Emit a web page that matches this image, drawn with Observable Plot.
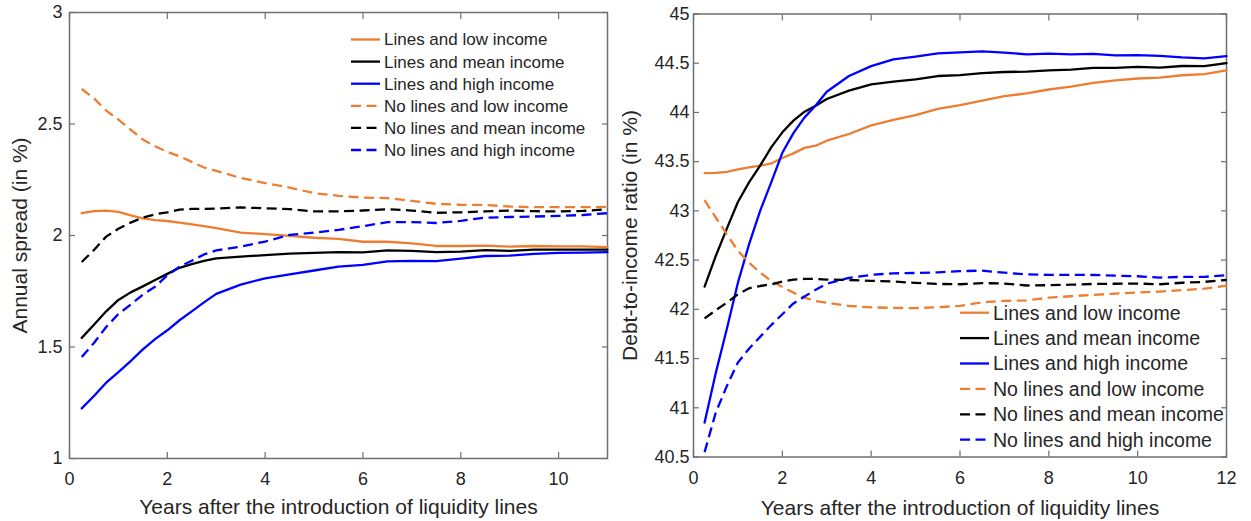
<!DOCTYPE html>
<html>
<head>
<meta charset="utf-8">
<script src="https://cdn.jsdelivr.net/npm/d3@7"></script>
<script src="https://cdn.jsdelivr.net/npm/@observablehq/plot@0.6"></script>
<style>
  body { margin: 0; background: #fff; }
  #charts { display: flex; width: 1251px; height: 521px; }
  #charts svg text { font-family: "Liberation Sans", Arial, sans-serif; }
</style>
</head>
<body>
<div id="charts"></div>
<script>
// Series shown in both panels (legend order)
const seriesNames = [
  "Lines and low income",
  "Lines and mean income",
  "Lines and high income",
  "No lines and low income",
  "No lines and mean income",
  "No lines and high income"
];

// Left panel: annual spread (in %)
const spreadYears = [0.25, 0.5, 0.75, 1, 1.25, 1.5, 1.75, 2, 2.25, 2.5, 2.75, 3, 3.5, 4,
  4.5, 5, 5.5, 6, 6.5, 7, 7.5, 8, 8.5, 9, 9.5, 10, 10.5, 11];
const spreadLinesLow = [2.100, 2.109, 2.112, 2.106, 2.090, 2.077, 2.069, 2.065, 2.058, 2.050, 2.042, 2.033, 2.013, 2.006,
  1.998, 1.990, 1.985, 1.972, 1.972, 1.965, 1.953, 1.953, 1.955, 1.950, 1.953, 1.951, 1.951, 1.948];
const spreadLinesMean = [1.541, 1.600, 1.660, 1.711, 1.745, 1.772, 1.800, 1.828, 1.855, 1.872, 1.886, 1.897, 1.905, 1.912,
  1.919, 1.922, 1.925, 1.924, 1.933, 1.931, 1.925, 1.928, 1.934, 1.931, 1.937, 1.937, 1.937, 1.937];
const spreadLinesHigh = [1.225, 1.280, 1.340, 1.387, 1.437, 1.489, 1.535, 1.575, 1.620, 1.660, 1.700, 1.738, 1.780, 1.808,
  1.826, 1.843, 1.860, 1.868, 1.884, 1.886, 1.885, 1.896, 1.908, 1.910, 1.918, 1.922, 1.923, 1.925];
const spreadNoLinesLow = [2.657, 2.615, 2.560, 2.520, 2.475, 2.430, 2.400, 2.375, 2.355, 2.330, 2.305, 2.290, 2.258, 2.235,
  2.215, 2.190, 2.178, 2.170, 2.168, 2.155, 2.142, 2.138, 2.137, 2.130, 2.127, 2.127, 2.127, 2.128];
const spreadNoLinesMean = [1.881, 1.935, 1.995, 2.030, 2.058, 2.080, 2.095, 2.104, 2.116, 2.119, 2.119, 2.121, 2.126, 2.122,
  2.118, 2.108, 2.108, 2.112, 2.118, 2.112, 2.102, 2.104, 2.108, 2.112, 2.109, 2.108, 2.110, 2.118];
const spreadNoLinesHigh = [1.455, 1.518, 1.590, 1.648, 1.690, 1.735, 1.770, 1.822, 1.860, 1.887, 1.915, 1.933, 1.950, 1.973,
  2.003, 2.013, 2.025, 2.042, 2.060, 2.060, 2.056, 2.066, 2.080, 2.083, 2.085, 2.088, 2.092, 2.100];

// Right panel: debt-to-income ratio (in %)
const ratioYears = [0.25, 0.5, 0.75, 1, 1.25, 1.5, 1.75, 2, 2.25, 2.5, 2.75, 3, 3.5, 4,
  4.5, 5, 5.5, 6, 6.5, 7, 7.5, 8, 8.5, 9, 9.5, 10, 10.5, 11, 11.5, 12];
const ratioLinesLow = [43.384, 43.386, 43.397, 43.422, 43.442, 43.459, 43.482, 43.537, 43.584, 43.640, 43.662, 43.713, 43.781, 43.868,
  43.925, 43.972, 44.037, 44.075, 44.121, 44.165, 44.193, 44.233, 44.263, 44.300, 44.325, 44.345, 44.353, 44.378, 44.390, 44.428];
const ratioLinesMean = [42.231, 42.540, 42.820, 43.090, 43.290, 43.459, 43.645, 43.798, 43.917, 44.008, 44.069, 44.137, 44.222, 44.285,
  44.313, 44.337, 44.370, 44.380, 44.400, 44.411, 44.415, 44.428, 44.435, 44.452, 44.452, 44.462, 44.455, 44.472, 44.470, 44.500];
const ratioLinesHigh = [40.850, 41.350, 41.800, 42.270, 42.660, 43.000, 43.290, 43.590, 43.790, 43.950, 44.070, 44.210, 44.370, 44.470,
  44.540, 44.568, 44.600, 44.610, 44.620, 44.608, 44.590, 44.598, 44.590, 44.595, 44.580, 44.583, 44.575, 44.560, 44.550, 44.572];
const ratioNoLinesLow = [43.109, 42.933, 42.763, 42.594, 42.475, 42.373, 42.288, 42.227, 42.170, 42.119, 42.085, 42.068, 42.034, 42.020,
  42.015, 42.012, 42.022, 42.035, 42.072, 42.085, 42.092, 42.118, 42.133, 42.147, 42.160, 42.172, 42.180, 42.195, 42.210, 42.240];
const ratioNoLinesMean = [41.908, 41.990, 42.068, 42.153, 42.214, 42.237, 42.254, 42.281, 42.302, 42.309, 42.309, 42.302, 42.298, 42.290,
  42.282, 42.268, 42.258, 42.255, 42.266, 42.262, 42.242, 42.245, 42.250, 42.258, 42.260, 42.262, 42.255, 42.270, 42.279, 42.298];
const ratioNoLinesHigh = [40.550, 40.950, 41.220, 41.460, 41.600, 41.720, 41.840, 41.950, 42.060, 42.130, 42.200, 42.260, 42.320, 42.350,
  42.366, 42.369, 42.376, 42.388, 42.393, 42.372, 42.355, 42.350, 42.350, 42.349, 42.342, 42.336, 42.323, 42.330, 42.330, 42.347];

// Tick values
const spreadXTicks = [0, 2, 4, 6, 8, 10];
const spreadYTicks = [1, 1.5, 2, 2.5, 3];
const ratioXTicks = [0, 2, 4, 6, 8, 10, 12];
const ratioYTicks = [40.5, 41, 41.5, 42, 42.5, 43, 43.5, 44, 44.5, 45];

const xTitle = "Years after the introduction of liquidity lines";

// Drawing styles per series
const ORANGE = "#ED7D31";
const seriesStroke = [ORANGE, "#000000", "#0000FF", ORANGE, "#000000", "#0000FF"];
const seriesDash = [null, null, null, "10,5.5", "10,5.5", "10,5.5"];
const axisColor = "#6f6f6f";
const textColor = "#262626";
const LINE_W = 2.3;

function drawPanel(cfg) {
  const rows = cfg.series.flatMap((vals, i) =>
    vals.map((v, j) => ({name: seriesNames[i], year: cfg.years[j], value: v})));

  const tickOpts = {stroke: axisColor, strokeWidth: 1.2, tickSize: -6, fontSize: cfg.tickFont, color: textColor};
  const fmt = (d) => String(d);

  const marks = [
    Plot.frame({stroke: axisColor, strokeWidth: 1.5}),
    Plot.axisX(cfg.xTicks, {...tickOpts, anchor: "bottom", tickPadding: 20, tickFormat: fmt, label: null}),
    Plot.axisX(cfg.xTicks, {...tickOpts, anchor: "top", tickFormat: () => "", label: null}),
    Plot.axisY(cfg.yTicks, {...tickOpts, anchor: "left", tickPadding: cfg.yPad, tickFormat: fmt, label: null}),
    Plot.axisY(cfg.yTicks, {...tickOpts, anchor: "right", tickFormat: () => "", label: null}),
    Plot.text([xTitle], {frameAnchor: "bottom", dy: cfg.xTitleDy, lineAnchor: "bottom", textAnchor: "middle",
      fontSize: cfg.titleFont, fill: textColor}),
    Plot.text([cfg.yTitle], {frameAnchor: "left", dx: cfg.yTitleDx, rotate: -90, lineAnchor: "top", textAnchor: "middle",
      fontSize: cfg.titleFont, fill: textColor}),
    ...seriesNames.map((name, i) =>
      Plot.line(rows.filter((r) => r.name === name), {
        x: "year", y: "value",
        stroke: seriesStroke[i], strokeWidth: LINE_W,
        strokeDasharray: seriesDash[i] ?? undefined,
        strokeLinecap: seriesDash[i] ? "butt" : "round"
      }))
  ];

  const svg = Plot.plot({
    width: cfg.width, height: 521,
    marginLeft: cfg.margin[3], marginRight: cfg.margin[1],
    marginTop: cfg.margin[0], marginBottom: cfg.margin[2],
    x: {domain: cfg.xDomain},
    y: {domain: cfg.yDomain},
    style: {background: "white", color: textColor, overflow: "visible",
      fontFamily: "'Liberation Sans', Arial, sans-serif"},
    marks
  });

  // Legend (no box), drawn into the same SVG
  const lg = d3.select(svg).append("g").attr("class", "legend").attr("text-anchor", "start");
  seriesNames.forEach((name, i) => {
    const y = cfg.legend.y0 + i * cfg.legend.step;
    lg.append("line")
      .attr("x1", cfg.legend.x0).attr("x2", cfg.legend.x1)
      .attr("y1", y).attr("y2", y)
      .attr("stroke", seriesStroke[i]).attr("stroke-width", LINE_W)
      .attr("stroke-dasharray", seriesDash[i])
      .attr("stroke-linecap", "butt");
    lg.append("text")
      .attr("x", cfg.legend.tx).attr("y", y).attr("dy", "0.35em")
      .attr("text-anchor", "start")
      .attr("font-size", cfg.legend.font).attr("fill", textColor)
      .text(name);
  });
  return svg;
}

const left = drawPanel({
  width: 620, margin: [12, 13, 63, 69],
  years: spreadYears,
  series: [spreadLinesLow, spreadLinesMean, spreadLinesHigh, spreadNoLinesLow, spreadNoLinesMean, spreadNoLinesHigh],
  xDomain: [0, 11], yDomain: [1, 3], xTicks: spreadXTicks, yTicks: spreadYTicks,
  yTitle: "Annual spread (in %)",
  tickFont: 18, titleFont: 21, yPad: 13, xTitleDy: 55, yTitleDx: -57,
  legend: {x0: 351, x1: 380, tx: 384, y0: 39.5, step: 22.1, font: 17}
});

const right = drawPanel({
  width: 631, margin: [13.5, 25, 64.5, 73],
  years: ratioYears,
  series: [ratioLinesLow, ratioLinesMean, ratioLinesHigh, ratioNoLinesLow, ratioNoLinesMean, ratioNoLinesHigh],
  xDomain: [0, 12], yDomain: [40.5, 45], xTicks: ratioXTicks, yTicks: ratioYTicks,
  yTitle: "Debt-to-income ratio (in %)",
  tickFont: 18, titleFont: 21, yPad: 10, xTitleDy: 58, yTitleDx: -71,
  legend: {x0: 340, x1: 369, tx: 373, y0: 312.7, step: 25.4, font: 19.5}
});

document.getElementById("charts").append(left, right);
</script>
</body>
</html>
